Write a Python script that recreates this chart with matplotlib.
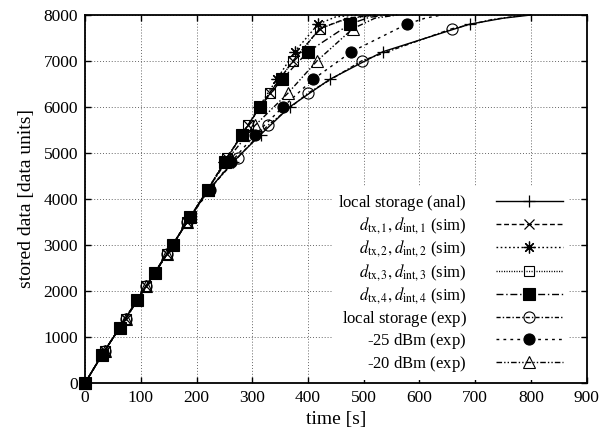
import matplotlib
matplotlib.use("Agg")
import matplotlib.pyplot as plt

# ---------------- data ----------------
# local storage (analytical) : markers every 600 data units
anal_t = [0, 30, 62, 93, 125, 157, 188, 222, 265, 315, 367, 439, 534, 690, 750, 800]
anal_y = [0, 600, 1200, 1800, 2400, 3000, 3600, 4200, 4800, 5400, 6000, 6600, 7200, 7800, 7930, 8000]
anal_nm = 14

sim1_t = [0, 35, 73, 110, 147, 183, 220, 255, 292, 331, 373, 421, 470, 520]
sim1_y = [0, 700, 1400, 2100, 2800, 3500, 4200, 4900, 5600, 6300, 7000, 7700, 7930, 8000]
sim1_nm = 12

sim2_t = [0, 30, 62, 93, 125, 157, 188, 220, 250, 282, 312, 344, 376, 418, 450, 490]
sim2_y = [0, 600, 1200, 1800, 2400, 3000, 3600, 4200, 4800, 5400, 6000, 6600, 7200, 7800, 7960, 8000]
sim2_nm = 14

sim3_t = [0, 35, 73, 110, 147, 183, 220, 255, 292, 331, 373, 421, 470, 525]
sim3_y = [0, 700, 1400, 2100, 2800, 3500, 4200, 4900, 5600, 6300, 7000, 7700, 7920, 8000]
sim3_nm = 12

sim4_t = [0, 30, 62, 93, 125, 157, 188, 220, 251, 281, 314, 353, 400, 475, 510, 545]
sim4_y = [0, 600, 1200, 1800, 2400, 3000, 3600, 4200, 4800, 5400, 6000, 6600, 7200, 7800, 7950, 8000]
sim4_nm = 14

exp_local_t = [0, 35, 73, 110, 147, 183, 222, 274, 328, 400, 496, 658, 730, 790]
exp_local_y = [0, 700, 1400, 2100, 2800, 3500, 4200, 4900, 5600, 6300, 7000, 7700, 7900, 8000]
exp_local_nm = 12

exp25_t = [0, 30, 62, 93, 125, 157, 188, 224, 262, 305, 355, 409, 478, 577, 610, 640]
exp25_y = [0, 600, 1200, 1800, 2400, 3000, 3600, 4200, 4800, 5400, 6000, 6600, 7200, 7800, 7930, 8000]
exp25_nm = 14

exp20_t = [0, 35, 73, 110, 147, 183, 220, 258, 305, 364, 416, 480, 520, 560]
exp20_y = [0, 700, 1400, 2100, 2800, 3500, 4200, 4900, 5600, 6300, 7000, 7700, 7930, 8000]
exp20_nm = 12

# (an empty subscript on the plain labels keeps every legend row the same height)
labels = [
    r"local storage (anal)$_{\,}$",
    r"$d_{\mathrm{tx},1}, d_{\mathrm{int},1}$ (sim)",
    r"$d_{\mathrm{tx},2}, d_{\mathrm{int},2}$ (sim)",
    r"$d_{\mathrm{tx},3}, d_{\mathrm{int},3}$ (sim)",
    r"$d_{\mathrm{tx},4}, d_{\mathrm{int},4}$ (sim)",
    r"local storage (exp)$_{\,}$",
    r"-25 dBm (exp)$_{\,}$",
    r"-20 dBm (exp)$_{\,}$",
]

x_ticks = [0, 100, 200, 300, 400, 500, 600, 700, 800, 900]
y_ticks = [0, 1000, 2000, 3000, 4000, 5000, 6000, 7000, 8000]

# ---------------- style ----------------
plt.rcParams['font.family'] = ['Liberation Serif', 'DejaVu Serif']
plt.rcParams['mathtext.fontset'] = 'stix'

fig = plt.figure(figsize=(6.03, 4.38), dpi=100)
ax = fig.add_axes([0.141, 0.1256, 0.832, 0.8402])

series = [
    (anal_t, anal_y, anal_nm, dict(linestyle='-', marker='+', ms=9, mew=0.9, mfc='none')),
    (sim1_t, sim1_y, sim1_nm, dict(linestyle=(0, (3.5, 2)), marker='x', ms=7, mew=0.9, mfc='none')),
    (sim2_t, sim2_y, sim2_nm, dict(linestyle=(0, (1.2, 1.8)), marker=(8, 2, 0), ms=8.5, mew=0.9, mfc='none')),
    (sim3_t, sim3_y, sim3_nm, dict(linestyle=(0, (0.8, 1.0)), marker='s', ms=7.5, mew=0.8, mfc='none')),
    (sim4_t, sim4_y, sim4_nm, dict(linestyle=(0, (5, 2, 1, 2)), marker='s', ms=8.5, mew=0.8, mfc='black')),
    (exp_local_t, exp_local_y, exp_local_nm, dict(linestyle=(0, (3, 1.5, 1, 1.5)), marker='o', ms=8, mew=0.8, mfc='none')),
    (exp25_t, exp25_y, exp25_nm, dict(linestyle=(0, (2, 3)), marker='o', ms=8, mew=0.8, mfc='black')),
    (exp20_t, exp20_y, exp20_nm, dict(linestyle=(0, (4, 1.5, 1, 1.5, 1, 1.5)), marker='^', ms=8, mew=0.8, mfc='none')),
]

zorders = [3, 3, 3, 3, 6, 3, 4, 3]
handles = []
for (t, y, nm, st), lab, zo in zip(series, labels, zorders):
    ln, = ax.plot(t, y, color='black', lw=1.0, markevery=slice(0, nm),
                  mec='black', clip_on=False, zorder=zo, label=lab, **st)
    handles.append(ln)

ax.set_xlim(0, 900)
ax.set_ylim(0, 8000)
ax.set_xticks(x_ticks)
ax.set_yticks(y_ticks)
ax.tick_params(direction='in', top=True, right=True, length=4, width=1.0,
               labelsize=12.5, pad=5)
ax.grid(True, linestyle=(0, (1, 2)), color='#666666', lw=0.7)
ax.set_axisbelow(True)
for s in ax.spines.values():
    s.set_linewidth(1.3)

ax.set_xlabel("time [s]", fontsize=14, labelpad=4)
ax.set_ylabel("stored data [data units]", fontsize=14, labelpad=6)

leg = ax.legend(handles=handles, loc='lower right', bbox_to_anchor=(0.97, 0.0),
                markerfirst=False, frameon=True, fancybox=False,
                edgecolor='none', facecolor='white', framealpha=1.0,
                fontsize=12, handlelength=4.0, handletextpad=1.75,
                labelspacing=0.15, borderpad=0.35, borderaxespad=0.2)
leg.set_zorder(10)

fig.savefig("out.png", dpi=100)
